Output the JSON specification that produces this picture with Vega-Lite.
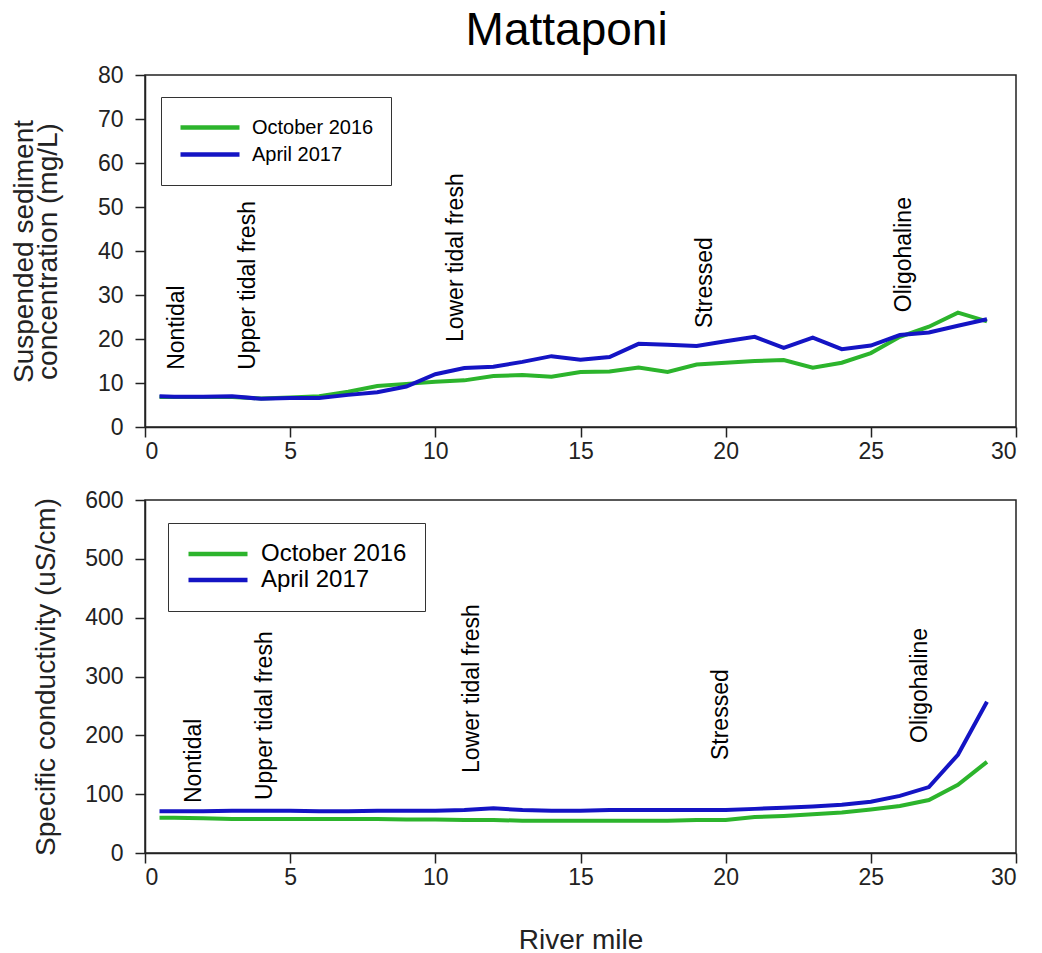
{
  "$schema": "https://vega.github.io/schema/vega-lite/v6.json",
  "padding": {"left": 9, "top": 8, "right": 5, "bottom": 0},
  "title": {"text": "Mattaponi", "fontSize": 46, "font": "Liberation Sans", "fontWeight": "normal", "color": "black", "anchor": "middle", "offset": 8, "dx": 53},
  "spacing": 24,
  "resolve": {"legend": {"color": "independent"}},
  "datasets": {
    "ssc": [
      {"mile": 0.5, "value": 6.8, "series": "October 2016"},
      {"mile": 1, "value": 6.8, "series": "October 2016"},
      {"mile": 2, "value": 6.8, "series": "October 2016"},
      {"mile": 3, "value": 6.8, "series": "October 2016"},
      {"mile": 4, "value": 6.5, "series": "October 2016"},
      {"mile": 5, "value": 6.7, "series": "October 2016"},
      {"mile": 6, "value": 7.0, "series": "October 2016"},
      {"mile": 7, "value": 8.0, "series": "October 2016"},
      {"mile": 8, "value": 9.3, "series": "October 2016"},
      {"mile": 9, "value": 9.8, "series": "October 2016"},
      {"mile": 10, "value": 10.3, "series": "October 2016"},
      {"mile": 11, "value": 10.6, "series": "October 2016"},
      {"mile": 12, "value": 11.6, "series": "October 2016"},
      {"mile": 13, "value": 11.8, "series": "October 2016"},
      {"mile": 14, "value": 11.4, "series": "October 2016"},
      {"mile": 15, "value": 12.5, "series": "October 2016"},
      {"mile": 16, "value": 12.6, "series": "October 2016"},
      {"mile": 17, "value": 13.5, "series": "October 2016"},
      {"mile": 18, "value": 12.5, "series": "October 2016"},
      {"mile": 19, "value": 14.2, "series": "October 2016"},
      {"mile": 20, "value": 14.6, "series": "October 2016"},
      {"mile": 21, "value": 15.0, "series": "October 2016"},
      {"mile": 22, "value": 15.2, "series": "October 2016"},
      {"mile": 23, "value": 13.5, "series": "October 2016"},
      {"mile": 24, "value": 14.6, "series": "October 2016"},
      {"mile": 25, "value": 16.8, "series": "October 2016"},
      {"mile": 26, "value": 20.5, "series": "October 2016"},
      {"mile": 27, "value": 22.8, "series": "October 2016"},
      {"mile": 28, "value": 26.0, "series": "October 2016"},
      {"mile": 29, "value": 24.0, "series": "October 2016"},
      {"mile": 0.5, "value": 7.0, "series": "April 2017"},
      {"mile": 1, "value": 6.9, "series": "April 2017"},
      {"mile": 2, "value": 6.9, "series": "April 2017"},
      {"mile": 3, "value": 7.0, "series": "April 2017"},
      {"mile": 4, "value": 6.4, "series": "April 2017"},
      {"mile": 5, "value": 6.6, "series": "April 2017"},
      {"mile": 6, "value": 6.6, "series": "April 2017"},
      {"mile": 7, "value": 7.3, "series": "April 2017"},
      {"mile": 8, "value": 7.9, "series": "April 2017"},
      {"mile": 9, "value": 9.2, "series": "April 2017"},
      {"mile": 10, "value": 12.0, "series": "April 2017"},
      {"mile": 11, "value": 13.4, "series": "April 2017"},
      {"mile": 12, "value": 13.7, "series": "April 2017"},
      {"mile": 13, "value": 14.8, "series": "April 2017"},
      {"mile": 14, "value": 16.1, "series": "April 2017"},
      {"mile": 15, "value": 15.3, "series": "April 2017"},
      {"mile": 16, "value": 15.9, "series": "April 2017"},
      {"mile": 17, "value": 18.9, "series": "April 2017"},
      {"mile": 18, "value": 18.7, "series": "April 2017"},
      {"mile": 19, "value": 18.4, "series": "April 2017"},
      {"mile": 20, "value": 19.5, "series": "April 2017"},
      {"mile": 21, "value": 20.5, "series": "April 2017"},
      {"mile": 22, "value": 18.0, "series": "April 2017"},
      {"mile": 23, "value": 20.3, "series": "April 2017"},
      {"mile": 24, "value": 17.7, "series": "April 2017"},
      {"mile": 25, "value": 18.5, "series": "April 2017"},
      {"mile": 26, "value": 20.9, "series": "April 2017"},
      {"mile": 27, "value": 21.5, "series": "April 2017"},
      {"mile": 28, "value": 23.0, "series": "April 2017"},
      {"mile": 29, "value": 24.5, "series": "April 2017"}
    ],
    "cond": [
      {"mile": 0.5, "value": 60, "series": "October 2016"},
      {"mile": 1, "value": 60, "series": "October 2016"},
      {"mile": 2, "value": 59, "series": "October 2016"},
      {"mile": 3, "value": 58, "series": "October 2016"},
      {"mile": 4, "value": 58, "series": "October 2016"},
      {"mile": 5, "value": 58, "series": "October 2016"},
      {"mile": 6, "value": 58, "series": "October 2016"},
      {"mile": 7, "value": 58, "series": "October 2016"},
      {"mile": 8, "value": 58, "series": "October 2016"},
      {"mile": 9, "value": 57, "series": "October 2016"},
      {"mile": 10, "value": 57, "series": "October 2016"},
      {"mile": 11, "value": 56, "series": "October 2016"},
      {"mile": 12, "value": 56, "series": "October 2016"},
      {"mile": 13, "value": 55, "series": "October 2016"},
      {"mile": 14, "value": 55, "series": "October 2016"},
      {"mile": 15, "value": 55, "series": "October 2016"},
      {"mile": 16, "value": 55, "series": "October 2016"},
      {"mile": 17, "value": 55, "series": "October 2016"},
      {"mile": 18, "value": 55, "series": "October 2016"},
      {"mile": 19, "value": 56, "series": "October 2016"},
      {"mile": 20, "value": 56, "series": "October 2016"},
      {"mile": 21, "value": 61, "series": "October 2016"},
      {"mile": 22, "value": 63, "series": "October 2016"},
      {"mile": 23, "value": 66, "series": "October 2016"},
      {"mile": 24, "value": 69, "series": "October 2016"},
      {"mile": 25, "value": 74, "series": "October 2016"},
      {"mile": 26, "value": 80, "series": "October 2016"},
      {"mile": 27, "value": 90, "series": "October 2016"},
      {"mile": 28, "value": 116, "series": "October 2016"},
      {"mile": 29, "value": 155, "series": "October 2016"},
      {"mile": 0.5, "value": 71, "series": "April 2017"},
      {"mile": 1, "value": 71, "series": "April 2017"},
      {"mile": 2, "value": 71, "series": "April 2017"},
      {"mile": 3, "value": 72, "series": "April 2017"},
      {"mile": 4, "value": 72, "series": "April 2017"},
      {"mile": 5, "value": 72, "series": "April 2017"},
      {"mile": 6, "value": 71, "series": "April 2017"},
      {"mile": 7, "value": 71, "series": "April 2017"},
      {"mile": 8, "value": 72, "series": "April 2017"},
      {"mile": 9, "value": 72, "series": "April 2017"},
      {"mile": 10, "value": 72, "series": "April 2017"},
      {"mile": 11, "value": 73, "series": "April 2017"},
      {"mile": 12, "value": 76, "series": "April 2017"},
      {"mile": 13, "value": 73, "series": "April 2017"},
      {"mile": 14, "value": 72, "series": "April 2017"},
      {"mile": 15, "value": 72, "series": "April 2017"},
      {"mile": 16, "value": 73, "series": "April 2017"},
      {"mile": 17, "value": 73, "series": "April 2017"},
      {"mile": 18, "value": 73, "series": "April 2017"},
      {"mile": 19, "value": 73, "series": "April 2017"},
      {"mile": 20, "value": 73, "series": "April 2017"},
      {"mile": 21, "value": 75, "series": "April 2017"},
      {"mile": 22, "value": 77, "series": "April 2017"},
      {"mile": 23, "value": 79, "series": "April 2017"},
      {"mile": 24, "value": 82, "series": "April 2017"},
      {"mile": 25, "value": 87, "series": "April 2017"},
      {"mile": 26, "value": 97, "series": "April 2017"},
      {"mile": 27, "value": 112, "series": "April 2017"},
      {"mile": 28, "value": 167, "series": "April 2017"},
      {"mile": 29, "value": 257, "series": "April 2017"}
    ],
    "zones_ssc": [
      {"mile": 1.1, "value": 13.0, "label": "Nontidal"},
      {"mile": 3.55, "value": 13.0, "label": "Upper tidal fresh"},
      {"mile": 10.7, "value": 19.3, "label": "Lower tidal fresh"},
      {"mile": 19.3, "value": 22.5, "label": "Stressed"},
      {"mile": 26.15, "value": 26.1, "label": "Oligohaline"}
    ],
    "zones_cond": [
      {"mile": 1.7, "value": 85, "label": "Nontidal"},
      {"mile": 4.13, "value": 90, "label": "Upper tidal fresh"},
      {"mile": 11.26, "value": 136, "label": "Lower tidal fresh"},
      {"mile": 19.84, "value": 158, "label": "Stressed"},
      {"mile": 26.7, "value": 187, "label": "Oligohaline"}
    ]
  },
  "vconcat": [
    {
      "width": 871,
      "height": 352,
      "layer": [
        {
          "data": {"name": "ssc"},
          "mark": {"type": "line", "strokeWidth": 4},
          "encoding": {
            "x": {"field": "mile", "type": "quantitative", "scale": {"domain": [0, 30], "nice": false}, "axis": {"title": null, "values": [0, 5, 10, 15, 20, 25, 30]}},
            "y": {"field": "value", "type": "quantitative", "scale": {"domain": [0, 80], "nice": false}, "axis": {"title": ["Suspended sediment", "concentration (mg/L)"], "values": [0, 10, 20, 30, 40, 50, 60, 70, 80], "titleLineHeight": 24, "titlePadding": 35}},
            "color": {"field": "series", "type": "nominal", "sort": ["October 2016", "April 2017"], "scale": {"domain": ["October 2016", "April 2017"], "range": ["#2cb42c", "#1414c4"]},
              "legend": {"title": null, "orient": "none", "legendX": 16, "legendY": 22, "strokeColor": "#333333", "padding": 17, "labelFontSize": 20, "symbolType": "stroke", "symbolSize": 3481, "symbolStrokeWidth": 4.5, "clipHeight": 27, "rowPadding": 0, "labelOffset": 10, "labelColor": "black", "labelFont": "Liberation Sans"}}
          }
        },
        {
          "data": {"name": "zones_ssc"},
          "mark": {"type": "text", "angle": 270, "align": "left", "baseline": "middle", "fontSize": 23, "font": "Liberation Sans", "color": "black"},
          "encoding": {
            "x": {"field": "mile", "type": "quantitative"},
            "y": {"field": "value", "type": "quantitative"},
            "text": {"field": "label"}
          }
        }
      ]
    },
    {
      "width": 871,
      "height": 353,
      "layer": [
        {
          "data": {"name": "cond"},
          "mark": {"type": "line", "strokeWidth": 4},
          "encoding": {
            "x": {"field": "mile", "type": "quantitative", "scale": {"domain": [0, 30], "nice": false}, "axis": {"title": "River mile", "values": [0, 5, 10, 15, 20, 25, 30], "titlePadding": 37}},
            "y": {"field": "value", "type": "quantitative", "scale": {"domain": [0, 600], "nice": false}, "axis": {"title": "Specific conductivity (uS/cm)", "values": [0, 100, 200, 300, 400, 500, 600], "titlePadding": 24}},
            "color": {"field": "series", "type": "nominal", "sort": ["October 2016", "April 2017"], "scale": {"domain": ["October 2016", "April 2017"], "range": ["#2cb42c", "#1414c4"]},
              "legend": {"title": null, "orient": "none", "legendX": 23, "legendY": 23, "strokeColor": "#333333", "padding": 18, "labelFontSize": 24, "symbolType": "stroke", "symbolSize": 3481, "symbolStrokeWidth": 4.5, "clipHeight": 26, "rowPadding": 0, "labelOffset": 11, "labelColor": "black", "labelFont": "Liberation Sans"}}
          }
        },
        {
          "data": {"name": "zones_cond"},
          "mark": {"type": "text", "angle": 270, "align": "left", "baseline": "middle", "fontSize": 23, "font": "Liberation Sans", "color": "black"},
          "encoding": {
            "x": {"field": "mile", "type": "quantitative"},
            "y": {"field": "value", "type": "quantitative"},
            "text": {"field": "label"}
          }
        }
      ]
    }
  ],
  "config": {
    "font": "Liberation Sans",
    "view": {"stroke": "#222222", "strokeWidth": 1.5},
    "axis": {
      "grid": false,
      "domainColor": "#222222",
      "domainWidth": 1.5,
      "tickColor": "#222222",
      "tickWidth": 1.5,
      "tickSize": 10,
      "labelPadding": 12,
      "labelFontSize": 23,
      "labelColor": "#222222",
      "labelFont": "Liberation Sans",
      "titleFont": "Liberation Sans",
      "titleFontSize": 28,
      "titleFontWeight": "normal",
      "titleColor": "#222222"
    },
    "axisX": {"labelPadding": 3}
  }
}
